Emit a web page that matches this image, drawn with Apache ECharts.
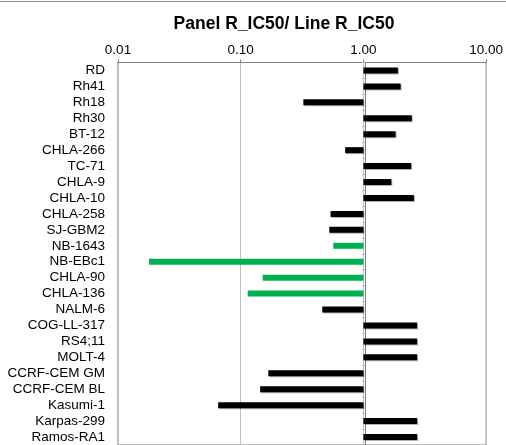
<!DOCTYPE html>
<html>
<head>
<meta charset="utf-8">
<script src="https://cdn.jsdelivr.net/npm/echarts@6/dist/echarts.min.js"></script>
<style>
html,body{margin:0;padding:0;background:#fff;overflow:hidden;}
#main{width:506px;height:445px;}
</style>
</head>
<body>
<div id="main"></div>
<script>
var titleText = 'Panel R_IC50/ Line R_IC50';
var categories = ['RD','Rh41','Rh18','Rh30','BT-12','CHLA-266','TC-71','CHLA-9','CHLA-10','CHLA-258','SJ-GBM2','NB-1643','NB-EBc1','CHLA-90','CHLA-136','NALM-6','COG-LL-317','RS4;11','MOLT-4','CCRF-CEM GM','CCRF-CEM BL','Kasumi-1','Karpas-299','Ramos-RA1'];
var ratios = [1.91,2.01,0.324,2.48,1.83,0.71,2.45,1.69,2.58,0.54,0.527,0.568,0.0179,0.151,0.114,0.462,2.74,2.74,2.74,0.168,0.144,0.0655,2.74,2.74];
var highlighted = ['NB-1643','NB-EBc1','CHLA-90','CHLA-136'];
var axisMin = 0.01, axisMax = 10;

var gridLeft = 118, gridRight = 17.5, gridTop = 62.5, gridBottom = -2;
var plotW = 506 - gridLeft - gridRight;
var oneOffset = -plotW * (Math.log10(1) - Math.log10(axisMin)) / (Math.log10(axisMax) - Math.log10(axisMin));

var chart = echarts.init(document.getElementById('main'), null, {renderer:'canvas'});
var font = '"Liberation Sans", Arial, sans-serif';
chart.setOption({
  animation:false,
  backgroundColor:'#fff',
  title:{text:titleText, left:279, top:10, textAlign:'center',
    textStyle:{fontFamily:font, fontSize:17.5, fontWeight:'bold', color:'#000'}},
  graphic:[{type:'line', shape:{x1:0,y1:1.5,x2:506,y2:1.5}, style:{stroke:'#8c8c8c', lineWidth:1}}],
  grid:{left:gridLeft, right:gridRight, top:gridTop, bottom:gridBottom, show:true, borderColor:'#7f7f7f', borderWidth:1, containLabel:false},
  xAxis:{type:'log', logBase:10, min:axisMin, max:axisMax, position:'top',
    axisLine:{show:true, lineStyle:{color:'#7f7f7f'}},
    axisTick:{show:true, length:3, lineStyle:{color:'#7f7f7f'}},
    minorTick:{show:false},
    axisLabel:{margin:5, fontFamily:font, fontSize:13.5, color:'#000', formatter:function(v){return Number(v).toFixed(2);}},
    splitLine:{show:true, lineStyle:{color:'#c0c0c0', width:1}}
  },
  yAxis:[{type:'category', data:categories, inverse:true, position:'left',
    axisLine:{show:false}, axisTick:{show:false},
    axisLabel:{interval:0, margin:13, fontFamily:font, fontSize:13.5, color:'#000'}
  },{type:'category', data:categories, inverse:true, position:'left', offset:oneOffset,
    axisLine:{show:true, onZero:false, lineStyle:{color:'#7f7f7f'}},
    axisTick:{show:true, interval:0, length:3, lineStyle:{color:'#c0c0c0'}},
    axisLabel:{show:false}, splitLine:{show:false}
  }],
  series:[{type:'bar', yAxisIndex:0, barWidth:6,
    data:ratios.map(function(v,i){
      return {value:v, itemStyle:{color: highlighted.indexOf(categories[i])>=0 ? '#00b050' : '#000000',
        shadowColor: highlighted.indexOf(categories[i])>=0 ? 'rgba(0,0,0,0)' : 'rgba(0,0,0,0.3)', shadowOffsetX:1, shadowOffsetY:1, shadowBlur:0}};
    })
  }]
});
</script>
</body>
</html>
